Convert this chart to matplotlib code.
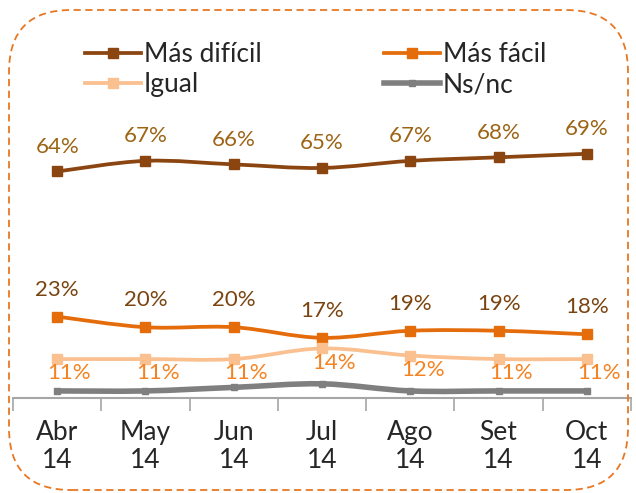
import matplotlib.pyplot as plt
from matplotlib.path import Path
from matplotlib.patches import PathPatch, FancyBboxPatch
from matplotlib.lines import Line2D
from matplotlib.transforms import IdentityTransform

plt.rcParams['font.family'] = ['Lato', 'DejaVu Sans']

months = ['Abr\n14', 'May\n14', 'Jun\n14', 'Jul\n14', 'Ago\n14', 'Set\n14', 'Oct\n14']
mas_dificil = [64, 67, 66, 65, 67, 68, 69]
mas_facil = [23, 20, 20, 17, 19, 19, 18]
igual = [11, 11, 11, 14, 12, 11, 11]
ns_nc = [2, 2, 3, 4, 2, 2, 2]


def smooth_path(xs, ys, t=0.17):
    # bezier through the points, like Excel's smoothed line
    verts = [(xs[0], ys[0])]
    codes = [Path.MOVETO]
    n = len(xs)
    for i in range(n - 1):
        x0, y0 = xs[max(i - 1, 0)], ys[max(i - 1, 0)]
        x1, y1 = xs[i], ys[i]
        x2, y2 = xs[i + 1], ys[i + 1]
        x3, y3 = xs[min(i + 2, n - 1)], ys[min(i + 2, n - 1)]
        c1 = (x1 + (x2 - x0) * t, y1 + (y2 - y0) * t)
        c2 = (x2 - (x3 - x1) * t, y2 - (y3 - y1) * t)
        verts += [c1, c2, (x2, y2)]
        codes += [Path.CURVE4] * 3
    return Path(verts, codes)


fig = plt.figure(figsize=(6.36, 4.93), dpi=100)
ax = fig.add_axes([13 / 636, 95 / 493, 618 / 636, 269 / 493])
ax.set_xlim(-0.5, 6.5)
ax.set_ylim(0, 76)

x = list(range(len(months)))
series = [
    ('Más difícil', mas_dificil, '#8B4510', 2.7, 6.5),
    ('Más fácil', mas_facil, '#E46C0A', 2.7, 6.5),
    ('Igual', igual, '#FAC090', 2.7, 6.5),
    ('Ns/nc', ns_nc, '#7F7F7F', 4, 5),
]
handles = []
for name, vals, color, lw, ms in series:
    ax.add_patch(PathPatch(smooth_path(x, vals), facecolor='none',
                           edgecolor=color, lw=lw, capstyle='round', zorder=2))
    ax.plot(x, vals, ls='none', marker='s', ms=ms, color=color, zorder=3)
    handles.append(Line2D([], [], color=color, lw=lw, marker='s', ms=ms))

for i in x:
    ax.text(i, mas_dificil[i] + 7, f'{mas_dificil[i]}%', ha='center',
            va='center', fontsize=16, color='#9C6414')
    ax.text(i, mas_facil[i] + 7.6, f'{mas_facil[i]}%', ha='center',
            va='center', fontsize=16, color='#7A4410')
    ax.text(i + 0.14, igual[i] - 4, f'{igual[i]}%', ha='center', va='center',
            fontsize=16, color='#F58220')

ax.set_xticks(x)
ax.set_xticklabels(months, fontsize=19, color='#262626', linespacing=1.15)
ax.set_xticks([i + 0.5 for i in range(-1, 7)], minor=True)
ax.tick_params(axis='x', which='major', length=0, pad=16)
ax.tick_params(axis='x', which='minor', length=9, color='#A6A6A6', width=1.2,
               direction='out')
ax.set_yticks([])
for s in ['top', 'right', 'left']:
    ax.spines[s].set_visible(False)
ax.spines['bottom'].set_color('#A6A6A6')
ax.spines['bottom'].set_linewidth(1.5)

# legend is filled column by column, so order it to read row-wise
order = [0, 2, 1, 3]
fig.legend([handles[k] for k in order], [series[k][0] for k in order],
           loc='upper left', bbox_to_anchor=(72 / 636, 1 - 29 / 493), ncol=2,
           frameon=False, fontsize=19, handlelength=2.1, handletextpad=0.12,
           columnspacing=4.65, labelspacing=0.2, borderpad=0,
           labelcolor='#262626')

border = FancyBboxPatch((9, 3), 619, 480,
                        boxstyle='round,pad=0,rounding_size=62',
                        transform=IdentityTransform(), facecolor='none',
                        edgecolor='#E87722', lw=1.3, ls=(0, (4, 2.5)))
fig.patches.append(border)

fig.savefig('out.png', dpi=100)
